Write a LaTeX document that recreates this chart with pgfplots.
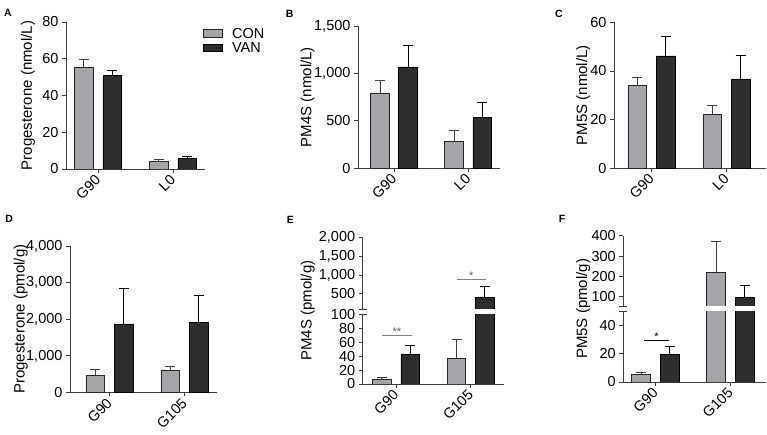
\documentclass[border=0pt]{standalone}
\usepackage{pgfplots}
\pgfplotsset{compat=1.18}
\usepackage{fontspec}
\setmainfont{Liberation Sans}
\definecolor{conc}{RGB}{165,165,169}
\definecolor{vanc}{RGB}{45,45,45}
\definecolor{axc}{RGB}{60,60,60}
\newcommand{\tf}{\fontsize{14.5}{16}\selectfont}
\newcommand{\lf}{\fontsize{15}{17}\selectfont}
\newcommand{\rl}[1]{\rotatebox{45}{#1}}
\pgfplotsset{
 every axis y label/.style={},
 gp/.style={scale only axis, anchor=south west, axis x line*=bottom, axis y line*=left,
   axis line style={-, line width=0.9pt, axc}, every tick/.style={line width=0.9pt, axc},
   major tick length=4pt, tick align=outside, xtick={0,1}, enlargelimits=false,
   yticklabel style={font=\tf}, label style={font=\lf},
   /pgf/number format/assume math mode=true, /pgf/number format/1000 sep={,},
   scaled y ticks=false, clip mode=individual,
 },
 xl/.style={x tick label style={font=\tf, anchor=north east, inner sep=0pt, xshift=3.7pt, yshift=-0.5pt}},
 upper/.style={gp, axis x line=none},
 con/.style={ybar, bar width=0.25, bar shift=0pt, fill=conc, draw=black!85, line width=0.7pt, mark=none,
   legend image code/.code={\draw[fill=conc, draw=black!85, line width=0.7pt] (0pt,-3.7pt) rectangle (19.6pt,3.7pt);},
   error bars/.cd, y dir=plus, y explicit, error bar style={line width=0.8pt, black!75},
   error mark options={rotate=90, mark size=5pt, line width=0.8pt, black!75}},
 van/.style={ybar, bar width=0.25, bar shift=0pt, fill=vanc, draw=black, line width=0.7pt, mark=none,
   legend image code/.code={\draw[fill=vanc, draw=black, line width=0.7pt] (0pt,-3.7pt) rectangle (19.6pt,3.7pt);},
   error bars/.cd, y dir=plus, y explicit, error bar style={line width=0.8pt, black},
   error mark options={rotate=90, mark size=5pt, line width=0.8pt, black}},
}
\begin{document}
\begin{tikzpicture}
\useasboundingbox (0,0) rectangle (767pt,435pt);
% ---------- A ----------
\begin{axis}[gp, xl, at={(66pt,266pt)}, width=139pt, height=147pt,
  xmin=-0.427, xmax=1.427, ymin=0, ymax=80, ytick={0,20,40,60,80},
  xticklabels={\rl{G90},\rl{L0}},
  ylabel={Progesterone (nmol/L)}, ylabel style={at={(rel axis cs:0,0.5)}, anchor=center, xshift=-38pt, rotate=90},
  legend style={at={(rel axis cs:0.983,0.957)}, anchor=north west, draw=none, fill=none, inner sep=0pt, font=\tf, row sep=4.4pt,
    nodes={inner sep=0pt, text height=10pt, text depth=0pt}},
  legend cell align=left]
\addplot[con] coordinates {(-0.19,55.5) +- (0,4.2) (0.81,4.3) +- (0,0.9)};
\addlegendentry{\hspace{9pt}CON}
\addplot[van] coordinates {(0.19,50.7) +- (0,3.0) (1.19,5.9) +- (0,1.1)};
\addlegendentry{\hspace{9pt}VAN}
\end{axis}
% ---------- B ----------
\begin{axis}[gp, xl, at={(358pt,266.7pt)}, width=142pt, height=142.3pt,
  xmin=-0.486, xmax=1.43, ymin=0, ymax=1500, ytick={0,500,1000,1500},
  xticklabels={\rl{G90},\rl{L0}},
  ylabel={PM4S (nmol/L)}, ylabel style={at={(rel axis cs:0,0.5)}, anchor=center, xshift=-50.5pt, rotate=90}]
\addplot[con] coordinates {(-0.19,794) +- (0,137) (0.81,281) +- (0,119)};
\addplot[van] coordinates {(0.19,1068) +- (0,232) (1.19,534) +- (0,165)};
\end{axis}
% ---------- C ----------
\begin{axis}[gp, xl, at={(614pt,266.7pt)}, width=152pt, height=146pt,
  xmin=-0.5, xmax=1.527, ymin=0, ymax=60, ytick={0,20,40,60},
  xticklabels={\rl{G90},\rl{L0}},
  ylabel={PM5S (nmol/L)}, ylabel style={at={(rel axis cs:0,0.5)}, anchor=center, xshift=-30.7pt, rotate=90}]
\addplot[con] coordinates {(-0.19,34.0) +- (0,3.4) (0.81,22.2) +- (0,3.7)};
\addplot[van] coordinates {(0.19,46.2) +- (0,8.0) (1.19,36.7) +- (0,9.5)};
\end{axis}
% ---------- D ----------
\begin{axis}[gp, xl, at={(70pt,42.5pt)}, width=147pt, height=146.5pt,
  xmin=-0.527, xmax=1.433, ymin=0, ymax=4000, ytick={0,1000,2000,3000,4000},
  xticklabels={\rl{G90},\rl{G105}},
  ylabel={Progesterone (pmol/g)}, ylabel style={at={(rel axis cs:0,0.5)}, anchor=center, xshift=-49.2pt, rotate=90}]
\addplot[con] coordinates {(-0.19,472) +- (0,145) (0.81,617) +- (0,102)};
\addplot[van] coordinates {(0.19,1874) +- (0,976) (1.19,1902) +- (0,748)};
\end{axis}
% ---------- E lower ----------
\begin{axis}[gp, xl, at={(362.7pt,51pt)}, width=141.3pt, height=69.7pt,
  xmin=-0.446, xmax=1.446, ymin=0, ymax=100, ytick={0,20,40,60,80,100},
  xticklabels={\rl{G90},\rl{G105}},
  ylabel={PM4S (pmol/g)}, ylabel style={at={(rel axis cs:0,1.053)}, anchor=center, xshift=-55pt, rotate=90}]
\addplot[con] coordinates {(-0.19,6.7) +- (0,2.9) (0.81,37.3) +- (0,26.8)};
\addplot[van] coordinates {(0.19,42.1) +- (0,13.4) (1.19,412) +- (0,282)};
\addplot[gray, line width=0.9pt] coordinates {(-0.183,69.4) (0.21,69.4)};
\node[anchor=base, inner sep=0pt, font=\fontsize{11}{11}\selectfont, gray!70!black] at (axis cs:0.013,69.4) {**};
\draw[axc, line width=0.9pt] ([xshift=-4pt]rel axis cs:0,1) -- ([xshift=4pt]rel axis cs:0,1);
\end{axis}
% ---------- E upper ----------
\begin{axis}[upper, at={(362.7pt,126pt)}, width=141.3pt, height=71.7pt,
  xmin=-0.446, xmax=1.446, ymin=100, ymax=2000, ytick={500,1000,1500,2000}]
\addplot[van] coordinates {(1.19,412) +- (0,282)};
\addplot[gray, line width=0.9pt] coordinates {(0.817,871) (1.2,871)};
\node[anchor=base, inner sep=0pt, font=\fontsize{11}{11}\selectfont, gray!70!black] at (axis cs:1.008,871) {*};
\draw[white, line width=0.9pt] ([xshift=1pt]rel axis cs:0,0) -- (rel axis cs:1,0);
\draw[axc, line width=0.9pt] ([xshift=-4pt]rel axis cs:0,0) -- ([xshift=4pt]rel axis cs:0,0);
\end{axis}
% ---------- F lower ----------
\begin{axis}[gp, xl, at={(623.3pt,53pt)}, width=142.7pt, height=70.8pt,
  xmin=-0.427, xmax=1.476, ymin=0, ymax=50, ytick={0,20,40},
  xticklabels={\rl{G90},\rl{G105}},
  ylabel={PM5S (pmol/g)}, ylabel style={at={(rel axis cs:0,1.032)}, anchor=center, xshift=-40pt, rotate=90}]
\addplot[con] coordinates {(-0.19,5.4) +- (0,1.7) (0.81,221) +- (0,149)};
\addplot[van] coordinates {(0.19,19.5) +- (0,5.4) (1.19,96.7) +- (0,57)};
\addplot[black, line width=0.9pt] coordinates {(-0.147,29.6) (0.179,29.6)};
\node[anchor=base, inner sep=0pt, font=\fontsize{11}{11}\selectfont] at (axis cs:0.016,29.6) {*};
\draw[axc, line width=0.9pt] ([xshift=-4pt]rel axis cs:0,1) -- ([xshift=4pt]rel axis cs:0,1);
\end{axis}
% ---------- F upper ----------
\begin{axis}[upper, at={(623.3pt,128.2pt)}, width=142.7pt, height=71.1pt,
  xmin=-0.427, xmax=1.476, ymin=50, ymax=400, ytick={100,200,300,400}]
\addplot[con] coordinates {(0.81,221) +- (0,149)};
\addplot[van] coordinates {(1.19,96.7) +- (0,57)};
\draw[white, line width=0.9pt] ([xshift=1pt]rel axis cs:0,0) -- (rel axis cs:1,0);
\draw[axc, line width=0.9pt] ([xshift=-4pt]rel axis cs:0,0) -- ([xshift=4pt]rel axis cs:0,0);
\end{axis}
% ---------- panel letters ----------
\begin{scope}[every node/.style={font=\bfseries\fontsize{10.5}{10.5}\selectfont, inner sep=0pt}]
\node at (8pt,422pt) {A};
\node at (289.7pt,421.3pt) {B};
\node at (558.8pt,421.3pt) {C};
\node at (9.2pt,216.3pt) {D};
\node at (290.3pt,215pt) {E};
\node at (562pt,215.7pt) {F};
\end{scope}
\end{tikzpicture}
\end{document}
